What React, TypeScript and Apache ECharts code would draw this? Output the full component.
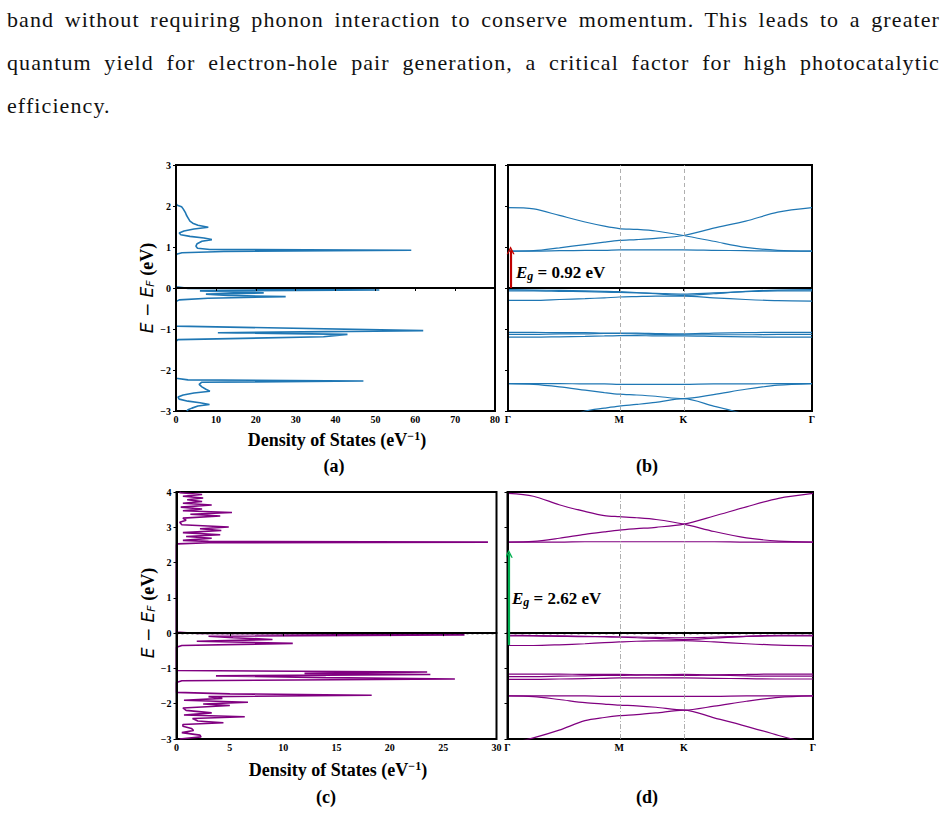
import React, { useEffect, useRef } from "react";
import * as echarts from "echarts";

// ---------- text ----------
const PARAGRAPH_LINES = [
  "band without requiring phonon interaction to conserve momentum. This leads to a greater",
  "quantum yield for electron-hole pair generation, a critical factor for high photocatalytic",
  "efficiency.",
];
const PARA_TOPS = [8.6, 51.6, 94.6];

// ---------- band structure path ----------
const K_PATH = [0, 0.2, 0.4, 0.6, 0.75, 0.866, 1.0, 1.15, 1.366, 1.6, 1.85, 2.1, 2.366];
const K_TICKS = [0, 0.866, 1.366, 2.366];
const K_LABELS = ["Γ", "M", "K", "Γ"];

// panel (b) bands (eV) at K_PATH
const BANDS_B = [
  [1.96, 1.93, 1.77, 1.61, 1.51, 1.45, 1.43, 1.39, 1.28, 1.14, 0.99, 0.92, 0.9],
  [0.9, 0.91, 0.98, 1.06, 1.12, 1.16, 1.18, 1.21, 1.28, 1.46, 1.63, 1.85, 1.96],
  [0.9, 0.9, 0.91, 0.92, 0.92, 0.93, 0.93, 0.93, 0.93, 0.92, 0.91, 0.9, 0.9],
  [-0.04, -0.05, -0.06, -0.07, -0.08, -0.09, -0.11, -0.14, -0.18, -0.14, -0.08, -0.05, -0.04],
  [-0.07, -0.07, -0.08, -0.09, -0.1, -0.11, -0.12, -0.13, -0.15, -0.12, -0.09, -0.07, -0.07],
  [-0.3, -0.3, -0.28, -0.26, -0.24, -0.22, -0.21, -0.2, -0.2, -0.24, -0.28, -0.31, -0.32],
  [-1.08, -1.08, -1.09, -1.09, -1.1, -1.1, -1.1, -1.11, -1.12, -1.1, -1.09, -1.08, -1.08],
  [-1.13, -1.13, -1.12, -1.12, -1.11, -1.11, -1.12, -1.13, -1.14, -1.14, -1.14, -1.13, -1.13],
  [-1.2, -1.2, -1.19, -1.18, -1.17, -1.16, -1.16, -1.17, -1.17, -1.18, -1.19, -1.2, -1.2],
  [-2.33, -2.33, -2.33, -2.34, -2.34, -2.35, -2.35, -2.35, -2.35, -2.34, -2.34, -2.33, -2.33],
  [-2.33, -2.35, -2.41, -2.49, -2.55, -2.59, -2.61, -2.64, -2.7, -2.6, -2.47, -2.37, -2.33],
  [-3.5, -3.38, -3.2, -3.0, -2.93, -2.88, -2.84, -2.79, -2.7, -2.88, -3.08, -3.3, -3.5],
];

// panel (d) bands (eV) at K_PATH
const BANDS_D = [
  [3.96, 3.88, 3.64, 3.45, 3.33, 3.3, 3.27, 3.22, 3.09, 2.88, 2.7, 2.61, 2.58],
  [2.58, 2.6, 2.69, 2.8, 2.87, 2.92, 2.96, 3.0, 3.09, 3.32, 3.58, 3.82, 3.96],
  [2.58, 2.58, 2.58, 2.59, 2.59, 2.59, 2.59, 2.59, 2.59, 2.59, 2.58, 2.58, 2.58],
  [-0.06, -0.07, -0.08, -0.09, -0.1, -0.11, -0.13, -0.15, -0.18, -0.14, -0.09, -0.06, -0.06],
  [-0.08, -0.08, -0.09, -0.1, -0.1, -0.11, -0.11, -0.12, -0.13, -0.11, -0.09, -0.08, -0.08],
  [-0.35, -0.35, -0.33, -0.3, -0.27, -0.25, -0.23, -0.22, -0.21, -0.25, -0.3, -0.34, -0.36],
  [-1.16, -1.16, -1.16, -1.17, -1.17, -1.17, -1.18, -1.19, -1.2, -1.18, -1.17, -1.16, -1.16],
  [-1.23, -1.23, -1.22, -1.21, -1.2, -1.2, -1.19, -1.18, -1.17, -1.19, -1.21, -1.22, -1.22],
  [-1.31, -1.31, -1.3, -1.29, -1.28, -1.27, -1.27, -1.27, -1.27, -1.28, -1.29, -1.3, -1.3],
  [-1.78, -1.78, -1.78, -1.78, -1.79, -1.79, -1.79, -1.79, -1.79, -1.79, -1.78, -1.78, -1.78],
  [-1.78, -1.8, -1.88, -1.97, -2.01, -2.04, -2.06, -2.1, -2.18, -2.07, -1.93, -1.82, -1.78],
  [-3.15, -2.97, -2.75, -2.48, -2.39, -2.34, -2.31, -2.26, -2.18, -2.4, -2.64, -2.9, -3.15],
];

// ---------- density of states: [energy (eV), DOS (1/eV)] ----------
const DOS_A: [number, number][] = [
  [3.0, 0], [2.06, 0], [2.02, 0.3], [1.98, 1.4], [1.93, 1.8], [1.88, 2.1], [1.83, 2.4], [1.78, 2.6],
  [1.73, 2.9], [1.68, 3.2], [1.63, 3.5], [1.58, 4.2], [1.53, 5.5], [1.48, 8.1], [1.44, 4.5], [1.39, 2.0],
  [1.34, 0.8], [1.3, 1.2], [1.26, 3.5], [1.22, 7.0], [1.18, 9.0], [1.14, 6.5], [1.08, 5.3], [1.02, 5.0],
  [0.97, 5.4], [0.94, 8.5], [0.92, 59], [0.89, 12], [0.86, 1.5], [0.83, 0.3], [0.8, 0],
  [0.03, 0], [-0.01, 3], [-0.05, 51], [-0.07, 6], [-0.09, 12.7], [-0.12, 22], [-0.15, 7.5], [-0.18, 13],
  [-0.21, 27.5], [-0.25, 8], [-0.29, 0.8], [-0.33, 0],
  [-0.93, 0], [-1.04, 62], [-1.09, 10.5], [-1.13, 43], [-1.19, 37], [-1.26, 0.5], [-1.3, 0],
  [-2.2, 0], [-2.24, 3], [-2.27, 47], [-2.3, 6.4], [-2.35, 5.8], [-2.41, 6.5], [-2.47, 7.5], [-2.52, 8.5],
  [-2.56, 4.5], [-2.61, 1.8], [-2.66, 0.5], [-2.71, 0.8], [-2.76, 3], [-2.8, 6], [-2.84, 8.4], [-2.88, 5.5],
  [-2.93, 4], [-2.97, 3], [-3.0, 2.7],
];

const DOS_C: [number, number][] = [
  [4.0, 0.4], [3.98, 0.3], [3.93, 2.4], [3.88, 0.6], [3.83, 2.5], [3.78, 1.0], [3.73, 2.4], [3.68, 0.6],
  [3.63, 3.3], [3.57, 0.4], [3.52, 2.4], [3.47, 0.6], [3.42, 5.2], [3.37, 1.3], [3.32, 4.1], [3.26, 0.6],
  [3.2, 0.9], [3.14, 0.3], [3.07, 0.5], [3.01, 4.9], [2.96, 2.2], [2.91, 4.2], [2.85, 0.6], [2.79, 4.1],
  [2.74, 0.9], [2.69, 3.3], [2.63, 0.6], [2.6, 3], [2.58, 29.2], [2.56, 3], [2.53, 0.1], [2.5, 0],
  [0.03, 0], [-0.01, 2], [-0.05, 27], [-0.09, 3], [-0.13, 5.3], [-0.18, 9.0], [-0.23, 1.9], [-0.29, 10.9],
  [-0.35, 0.5], [-0.4, 0],
  [-1.06, 0], [-1.1, 23.5], [-1.14, 12], [-1.17, 23.8], [-1.21, 3.7], [-1.26, 14], [-1.3, 26.1],
  [-1.35, 0.5], [-1.4, 0],
  [-1.68, 0], [-1.72, 5], [-1.76, 18.3], [-1.8, 3], [-1.85, 4.3], [-1.9, 0.7], [-1.96, 6.7], [-2.01, 2.5],
  [-2.05, 5.0], [-2.12, 0.6], [-2.19, 0.9], [-2.26, 3.3], [-2.32, 0.7], [-2.37, 6.4], [-2.42, 1.5],
  [-2.49, 2.0], [-2.54, 4.4], [-2.59, 0.6], [-2.64, 0.6], [-2.7, 1.4], [-2.76, 1.6], [-2.82, 0.5],
  [-2.89, 2.2], [-2.94, 2.3], [-3.0, 0.3],
];

// band-gap annotations
const EG_B_ARROW = [0.0, 0.92];
const EG_D_ARROW = [-0.34, 2.25];
const EG_B_TEXT = "0.92";
const EG_D_TEXT = "2.62";

const BLUE = "#1f77b4";
const PURPLE = "#800080";
const SERIF = "Liberation Serif, DejaVu Serif, serif";

const minusFmt = (v: number) => (v < 0 ? `\u2212${Math.abs(v)}` : `${v}`);
const kFmt = (v: number) => {
  const i = K_TICKS.findIndex((t) => Math.abs(t - v) < 1e-6);
  return i >= 0 ? K_LABELS[i] : "";
};

const tickLabel = {
  fontFamily: SERIF,
  fontWeight: "bold" as const,
  fontSize: 10,
  color: "#000",
  margin: 3,
};
const axisLine = { show: true, lineStyle: { color: "#000", width: 2 } };
const axisTick = { show: true, length: 3, lineStyle: { color: "#000", width: 1 } };

const CHEVRON = "path://M0,8 L5,0 L10,8 L8.2,8 L5,2.9 L1.8,8 Z";

function buildOption() {
  const grids = [
    { left: 176, top: 165, width: 319, height: 246 },
    { left: 508, top: 165, width: 304, height: 246 },
    { left: 176.5, top: 492, width: 320, height: 247 },
    { left: 507.5, top: 492, width: 305.5, height: 247 },
  ].map((g) => ({ ...g, show: true, borderColor: "#000", borderWidth: 2, containLabel: false }));

  const dosX = (gridIndex: number, max: number, interval: number) => ({
    type: "value",
    gridIndex,
    z: 10,
    min: 0,
    max,
    interval,
    axisLine,
    axisTick,
    splitLine: { show: false },
    axisLabel: { ...tickLabel, formatter: minusFmt },
  });
  const bandX = (gridIndex: number) => ({
    type: "value",
    gridIndex,
    z: 10,
    min: 0,
    max: K_TICKS[3],
    axisLine,
    axisTick: { ...axisTick, customValues: K_TICKS },
    splitLine: { show: false },
    axisLabel: { ...tickLabel, customValues: K_TICKS, formatter: kFmt },
  });
  const yAx = (gridIndex: number, min: number, max: number, labels: boolean) => ({
    type: "value",
    gridIndex,
    z: 10,
    min,
    max,
    interval: 1,
    axisLine,
    axisTick,
    splitLine: { show: false },
    axisLabel: { ...tickLabel, show: labels, margin: 5, formatter: minusFmt },
  });

  const series: any[] = [];

  const addDos = (idx: number, pts: [number, number][], color: string, xmax: number, dotType: number[]) => {
    series.push({
      type: "line",
      xAxisIndex: idx,
      yAxisIndex: idx,
      data: pts.map(([e, d]) => [d, e]),
      showSymbol: false,
      symbol: "none",
      lineStyle: { color, width: 1.6 },
      clip: true,
      silent: true,
    });
    series.push({
      type: "line",
      xAxisIndex: idx,
      yAxisIndex: idx,
      data: [
        [0, 0],
        [xmax, 0],
      ],
      symbol: "none",
      lineStyle: { color: "#000", width: 2, type: dotType },
      silent: true,
    });
  };

  const addBands = (
    idx: number,
    bands: number[][],
    color: string,
    vType: number[],
    dotType: number[],
    arrow: number[],
    arrowColor: string,
    arrowK: number
  ) => {
    bands.forEach((b, bi) => {
      series.push({
        type: "line",
        xAxisIndex: idx,
        yAxisIndex: idx,
        data: K_PATH.map((k, i) => [k, b[i]]),
        smooth: 0.3,
        showSymbol: false,
        symbol: "none",
        lineStyle: { color, width: 1.2 },
        clip: true,
        silent: true,
        markLine:
          bi === 0
            ? {
                silent: true,
                symbol: "none",
                label: { show: false },
                lineStyle: { color: "#9a9a9a", width: 0.8, type: vType },
                data: [{ xAxis: K_TICKS[1] }, { xAxis: K_TICKS[2] }],
              }
            : undefined,
      });
    });
    series.push({
      type: "line",
      xAxisIndex: idx,
      yAxisIndex: idx,
      data: [
        [0, 0],
        [K_TICKS[3], 0],
      ],
      symbol: "none",
      lineStyle: { color: "#000", width: 2, type: dotType },
      silent: true,
    });
    series.push({
      type: "lines",
      coordinateSystem: "cartesian2d",
      xAxisIndex: idx,
      yAxisIndex: idx,
      z: 12,
      symbol: ["none", CHEVRON],
      symbolSize: [10, 8],
      lineStyle: { color: arrowColor, width: 2.2, opacity: 1 },
      itemStyle: { color: arrowColor },
      silent: true,
      data: [
        {
          coords: [
            [arrowK, arrow[0]],
            [arrowK, arrow[1]],
          ],
        },
      ],
    });
  };

  addDos(0, DOS_A, BLUE, 80, [2, 2.5]);
  addBands(1, BANDS_B, BLUE, [4, 3], [1.5, 2], EG_B_ARROW, "#c00000", 0.02);
  addDos(2, DOS_C, PURPLE, 30, [2, 3]);
  addBands(3, BANDS_D, PURPLE, [5, 2, 1, 2], [2, 5], EG_D_ARROW, "#00b050", 0.01);

  const yLabelRich = {
    i: { fontFamily: "DejaVu Sans, sans-serif", fontStyle: "italic", fontSize: 17, fill: "#000" },
    m: { fontFamily: "DejaVu Sans, sans-serif", fontSize: 17, fill: "#000" },
    s: {
      fontFamily: "DejaVu Sans, sans-serif",
      fontStyle: "italic",
      fontSize: 11,
      fill: "#000",
      verticalAlign: "bottom",
      lineHeight: 14,
      padding: [6, 0, 0, 0],
    },
    b: { fontFamily: SERIF, fontWeight: "bold", fontSize: 18, fill: "#000" },
  };
  const xLabelRich = {
    t: { fontFamily: SERIF, fontWeight: "bold", fontSize: 18, fill: "#000" },
    p: {
      fontFamily: SERIF,
      fontWeight: "bold",
      fontSize: 12,
      fill: "#000",
      verticalAlign: "top",
      padding: [0, 0, 8, 0],
    },
  };
  const egRich = {
    e: { fontFamily: SERIF, fontWeight: "bold", fontStyle: "italic", fontSize: 17, fill: "#000" },
    g: {
      fontFamily: SERIF,
      fontWeight: "bold",
      fontStyle: "italic",
      fontSize: 12,
      fill: "#000",
      verticalAlign: "bottom",
      padding: [7, 0, 0, 0],
    },
    t: { fontFamily: SERIF, fontWeight: "bold", fontSize: 17, fill: "#000" },
  };

  const yLabel = (x: number, y: number) => ({
    type: "text",
    x,
    y,
    rotation: Math.PI / 2,
    silent: true,
    style: {
      text: "{i|E}{m| \u2212 }{i|E}{s|F}{b| (eV)}",
      rich: yLabelRich,
      align: "center",
      verticalAlign: "middle",
    },
  });
  const xLabel = (x: number, y: number) => ({
    type: "text",
    x,
    y,
    silent: true,
    style: {
      text: "{t|Density of States (eV}{p|\u22121}{t|)}",
      rich: xLabelRich,
      align: "center",
      verticalAlign: "middle",
    },
  });
  const panelLabel = (x: number, y: number, s: string) => ({
    type: "text",
    x,
    y,
    silent: true,
    style: {
      text: s,
      fontFamily: SERIF,
      fontWeight: "bold",
      fontSize: 18,
      fill: "#000",
      align: "center",
      verticalAlign: "middle",
    },
  });
  const egLabel = (x: number, y: number, v: string) => ({
    type: "text",
    x,
    y,
    silent: true,
    style: {
      text: `{e|E}{g|g}{t| = ${v} eV}`,
      rich: egRich,
      align: "left",
      verticalAlign: "middle",
    },
  });

  return {
    animation: false,
    backgroundColor: "transparent",
    grid: grids,
    xAxis: [dosX(0, 80, 10), bandX(1), dosX(2, 30, 5), bandX(3)],
    yAxis: [yAx(0, -3, 3, true), yAx(1, -3, 3, false), yAx(2, -3, 4, true), yAx(3, -3, 4, false)],
    series,
    graphic: [
      yLabel(147, 288),
      yLabel(148, 613),
      xLabel(337, 440),
      xLabel(338, 770),
      panelLabel(334, 466, "(a)"),
      panelLabel(647, 466, "(b)"),
      panelLabel(326, 797, "(c)"),
      panelLabel(647, 797, "(d)"),
      egLabel(516, 272, EG_B_TEXT),
      egLabel(512, 598, EG_D_TEXT),
    ],
  };
}

export default function App() {
  const ref = useRef<HTMLDivElement>(null);
  useEffect(() => {
    if (!ref.current) return;
    const chart = echarts.init(ref.current, null, { renderer: "svg" });
    chart.setOption(buildOption() as any);
    return () => chart.dispose();
  }, []);
  return (
    <div
      style={{
        position: "absolute",
        left: 0,
        top: 0,
        width: 947,
        height: 814,
        background: "#fff",
        overflow: "hidden",
      }}
    >
      {PARAGRAPH_LINES.map((line, i) => (
        <div
          key={i}
          style={{
            position: "absolute",
            left: 7,
            width: 933,
            top: PARA_TOPS[i],
            fontFamily: SERIF,
            fontSize: 22,
            letterSpacing: "1.1px",
            lineHeight: "22px",
            color: "#111",
            textAlign: "justify",
            textAlignLast: i < 2 ? "justify" : "left",
          }}
        >
          {line}
        </div>
      ))}
      <div ref={ref} style={{ position: "absolute", left: 0, top: 0, width: 947, height: 814 }} />
    </div>
  );
}
